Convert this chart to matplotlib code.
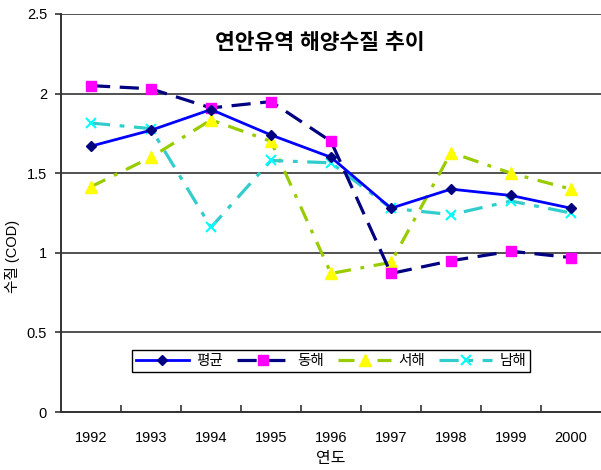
import matplotlib
matplotlib.use("Agg")
import matplotlib.pyplot as plt
from matplotlib.ticker import FixedLocator, NullFormatter

plt.rcParams['font.family'] = ['Liberation Sans', 'Noto Sans CJK KR', 'DejaVu Sans']

years = ['1992', '1993', '1994', '1995', '1996', '1997', '1998', '1999', '2000']
avg = [1.67, 1.77, 1.90, 1.74, 1.60, 1.28, 1.40, 1.36, 1.28]
east = [2.05, 2.03, 1.91, 1.95, 1.70, 0.87, 0.95, 1.01, 0.97]
west = [1.415, 1.60, 1.835, 1.70, 0.87, 0.94, 1.63, 1.50, 1.40]
south = [1.815, 1.78, 1.16, 1.58, 1.565, 1.28, 1.24, 1.325, 1.25]
series_names = ['평균', '동해', '서해', '남해']
title = '연안유역 해양수질 추이'
xlabel = '연도'
ylabel = '수질 (COD)'
yticks = [0, 0.5, 1, 1.5, 2, 2.5]
ytick_labels = ['0', '0.5', '1', '1.5', '2', '2.5']

fig = plt.figure(figsize=(6.01, 4.70), dpi=100)
ax = fig.add_axes([61/601, 1 - 412/470, 540/601, 398/470])

x = list(range(len(years)))
ax.plot(x, avg, color='#0000FF', lw=2.0, marker='D', ms=5.5,
        mfc='#000080', mec='#000080', label=series_names[0], zorder=5)
ax.plot(x, east, color='#000080', lw=2.3, ls=(0, (6, 3)), marker='s', ms=7,
        mfc='#FF00FF', mec='#FF00FF', label=series_names[1], zorder=4)
ax.plot(x, west, color='#99CC00', lw=2.3, ls=(0, (5, 3, 1.2, 3)), marker='^', ms=8,
        mfc='#FFFF00', mec='#FFFF00', label=series_names[2], zorder=3)
ax.plot(x, south, color='#33CCCC', lw=2.3, ls=(0, (6, 3, 1.5, 3)), marker='x', ms=7,
        mew=1.5, mfc='#00FFFF', mec='#00FFFF', label=series_names[3], zorder=3)

ax.set_xlim(-0.5, len(years) - 0.5)
ax.set_ylim(0, 2.5)
ax.set_yticks(yticks)
ax.set_yticklabels(ytick_labels)
ax.yaxis.grid(True, color='#333333', lw=1.2)
ax.set_axisbelow(True)

ax.xaxis.set_major_locator(FixedLocator(x))
ax.set_xticklabels(years)
ax.tick_params(axis='x', which='major', length=0, pad=14, labelsize=10.5)
ax.xaxis.set_minor_locator(FixedLocator([i + 0.5 for i in range(len(years) - 1)]))
ax.xaxis.set_minor_formatter(NullFormatter())
ax.tick_params(axis='x', which='minor', direction='in', length=5, width=1.2, color='#333333')
ax.tick_params(axis='y', length=4, width=1.2, labelsize=10.5, pad=6, color='#333333')

for s in ['top', 'right']:
    ax.spines[s].set_visible(False)
for s in ['left', 'bottom']:
    ax.spines[s].set_color('#333333')
    ax.spines[s].set_linewidth(1.4)

ax.set_xlabel(xlabel, fontsize=11.5, labelpad=4)
ax.set_ylabel(ylabel, fontsize=10.5)
ax.yaxis.set_label_coords(-0.075, 0.39)

ax.text(0.48, 0.925, title, transform=ax.transAxes, ha='center', va='center',
        fontsize=15.5, fontweight='bold')

leg = ax.legend(loc='center', bbox_to_anchor=(0.5, 0.128), ncol=4, fontsize=10.5,
                frameon=True, fancybox=False, edgecolor='black', framealpha=1,
                handlelength=3.6, columnspacing=1.0, handletextpad=0.5,
                borderpad=0.3)
leg.get_frame().set_linewidth(1.0)

fig.savefig('out.png', dpi=100)
